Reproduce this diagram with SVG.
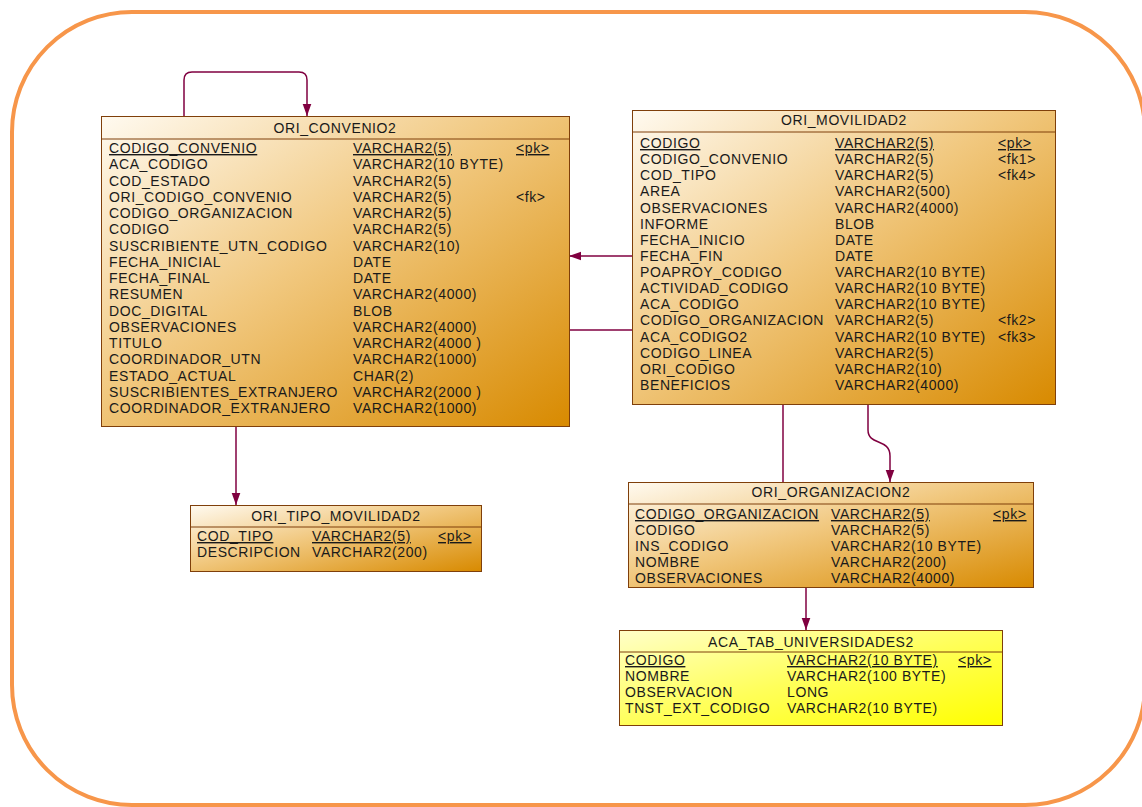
<svg xmlns="http://www.w3.org/2000/svg" width="1142" height="807" viewBox="0 0 1142 807">
<style>
text{font-family:"Liberation Sans",Arial,sans-serif;font-size:14px;letter-spacing:0.6px;fill:#1a1a1a}
.t{text-anchor:middle}
.pk{text-decoration:underline}
.box{stroke:#7f3f0a;stroke-width:1}
.hd{stroke:#7f3f0a;stroke-width:1}
.cn{fill:none;stroke:#800040;stroke-width:1.5}
</style>
<defs>
<linearGradient id="og" x1="0" y1="0" x2="1" y2="1">
<stop offset="0" stop-color="#fffaf0"/>
<stop offset="0.45" stop-color="#f1c87f"/>
<stop offset="1" stop-color="#d88a00"/>
</linearGradient>
<linearGradient id="yg" x1="0" y1="0" x2="1" y2="1">
<stop offset="0" stop-color="#ffffc8"/>
<stop offset="0.5" stop-color="#ffff5a"/>
<stop offset="1" stop-color="#ffff00"/>
</linearGradient>
<marker id="ar" markerWidth="12" markerHeight="14" refX="14" refY="5" viewBox="0 0 14 10" markerUnits="userSpaceOnUse" orient="auto">
<path d="M0,0 L14,5 L0,10 Z" fill="#800040"/>
</marker>
</defs>
<rect x="12" y="12" width="1133" height="793" rx="120" ry="120" fill="#fff" stroke="#f7964a" stroke-width="4"/>

<g id="connectors">
<path class="cn" d="M184,116 V80 Q184,72 192,72 H299 Q307,72 307,80 V116" marker-end="url(#ar)"/>
<path class="cn" d="M632,256 H569" marker-end="url(#ar)"/>
<path class="cn" d="M569,330 H632"/>
<path class="cn" d="M236,426 V505" marker-end="url(#ar)"/>
<path class="cn" d="M783,404 V482"/>
<path class="cn" d="M868,404 V430 C868,446 890,438 890,456 V482" marker-end="url(#ar)"/>
<path class="cn" d="M806,587 V630" marker-end="url(#ar)"/>
</g>

<g id="ORI_CONVENIO2">
<rect class="box" x="101.5" y="116.5" width="468" height="310" fill="url(#og)"/>
<line class="hd" x1="101.5" y1="139" x2="569.5" y2="139"/>
<text class="t" x="335" y="133">ORI_CONVENIO2</text>
<text class="pk" x="109" y="153">CODIGO_CONVENIO</text><text class="pk" x="353" y="153">VARCHAR2(5)</text><text class="pk" x="516" y="153">&lt;pk&gt;</text>
<text x="109" y="169.25">ACA_CODIGO</text><text x="353" y="169.25">VARCHAR2(10 BYTE)</text>
<text x="109" y="185.5">COD_ESTADO</text><text x="353" y="185.5">VARCHAR2(5)</text>
<text x="109" y="201.75">ORI_CODIGO_CONVENIO</text><text x="353" y="201.75">VARCHAR2(5)</text><text x="516" y="201.75">&lt;fk&gt;</text>
<text x="109" y="218">CODIGO_ORGANIZACION</text><text x="353" y="218">VARCHAR2(5)</text>
<text x="109" y="234.25">CODIGO</text><text x="353" y="234.25">VARCHAR2(5)</text>
<text x="109" y="250.5">SUSCRIBIENTE_UTN_CODIGO</text><text x="353" y="250.5">VARCHAR2(10)</text>
<text x="109" y="266.75">FECHA_INICIAL</text><text x="353" y="266.75">DATE</text>
<text x="109" y="283">FECHA_FINAL</text><text x="353" y="283">DATE</text>
<text x="109" y="299.25">RESUMEN</text><text x="353" y="299.25">VARCHAR2(4000)</text>
<text x="109" y="315.5">DOC_DIGITAL</text><text x="353" y="315.5">BLOB</text>
<text x="109" y="331.75">OBSERVACIONES</text><text x="353" y="331.75">VARCHAR2(4000)</text>
<text x="109" y="348">TITULO</text><text x="353" y="348">VARCHAR2(4000 )</text>
<text x="109" y="364.25">COORDINADOR_UTN</text><text x="353" y="364.25">VARCHAR2(1000)</text>
<text x="109" y="380.5">ESTADO_ACTUAL</text><text x="353" y="380.5">CHAR(2)</text>
<text x="109" y="396.75">SUSCRIBIENTES_EXTRANJERO</text><text x="353" y="396.75">VARCHAR2(2000 )</text>
<text x="109" y="413">COORDINADOR_EXTRANJERO</text><text x="353" y="413">VARCHAR2(1000)</text>
</g>

<g id="ORI_MOVILIDAD2">
<rect class="box" x="632.5" y="110.5" width="423" height="294" fill="url(#og)"/>
<line class="hd" x1="632.5" y1="132" x2="1055.5" y2="132"/>
<text class="t" x="844" y="125">ORI_MOVILIDAD2</text>
<text class="pk" x="640" y="148">CODIGO</text><text class="pk" x="835" y="148">VARCHAR2(5)</text><text class="pk" x="998" y="148">&lt;pk&gt;</text>
<text x="640" y="164.1">CODIGO_CONVENIO</text><text x="835" y="164.1">VARCHAR2(5)</text><text x="998" y="164.1">&lt;fk1&gt;</text>
<text x="640" y="180.3">COD_TIPO</text><text x="835" y="180.3">VARCHAR2(5)</text><text x="998" y="180.3">&lt;fk4&gt;</text>
<text x="640" y="196.4">AREA</text><text x="835" y="196.4">VARCHAR2(500)</text>
<text x="640" y="212.5">OBSERVACIONES</text><text x="835" y="212.5">VARCHAR2(4000)</text>
<text x="640" y="228.7">INFORME</text><text x="835" y="228.7">BLOB</text>
<text x="640" y="244.8">FECHA_INICIO</text><text x="835" y="244.8">DATE</text>
<text x="640" y="260.9">FECHA_FIN</text><text x="835" y="260.9">DATE</text>
<text x="640" y="277.1">POAPROY_CODIGO</text><text x="835" y="277.1">VARCHAR2(10 BYTE)</text>
<text x="640" y="293.2">ACTIVIDAD_CODIGO</text><text x="835" y="293.2">VARCHAR2(10 BYTE)</text>
<text x="640" y="309.3">ACA_CODIGO</text><text x="835" y="309.3">VARCHAR2(10 BYTE)</text>
<text x="640" y="325.4">CODIGO_ORGANIZACION</text><text x="835" y="325.4">VARCHAR2(5)</text><text x="998" y="325.4">&lt;fk2&gt;</text>
<text x="640" y="341.6">ACA_CODIGO2</text><text x="835" y="341.6">VARCHAR2(10 BYTE)</text><text x="998" y="341.6">&lt;fk3&gt;</text>
<text x="640" y="357.7">CODIGO_LINEA</text><text x="835" y="357.7">VARCHAR2(5)</text>
<text x="640" y="373.8">ORI_CODIGO</text><text x="835" y="373.8">VARCHAR2(10)</text>
<text x="640" y="390">BENEFICIOS</text><text x="835" y="390">VARCHAR2(4000)</text>
</g>

<g id="ORI_TIPO_MOVILIDAD2">
<rect class="box" x="190.5" y="505.5" width="291" height="66" fill="url(#og)"/>
<line class="hd" x1="190.5" y1="527" x2="481.5" y2="527"/>
<text class="t" x="336" y="521">ORI_TIPO_MOVILIDAD2</text>
<text class="pk" x="197" y="541">COD_TIPO</text><text class="pk" x="312" y="541">VARCHAR2(5)</text><text class="pk" x="438" y="541">&lt;pk&gt;</text>
<text x="197" y="557">DESCRIPCION</text><text x="312" y="557">VARCHAR2(200)</text>
</g>

<g id="ORI_ORGANIZACION2">
<rect class="box" x="628.5" y="482.5" width="405" height="105" fill="url(#og)"/>
<line class="hd" x1="628.5" y1="504" x2="1033.5" y2="504"/>
<text class="t" x="831" y="497">ORI_ORGANIZACION2</text>
<text class="pk" x="635" y="519">CODIGO_ORGANIZACION</text><text class="pk" x="831" y="519">VARCHAR2(5)</text><text class="pk" x="993" y="519">&lt;pk&gt;</text>
<text x="635" y="535">CODIGO</text><text x="831" y="535">VARCHAR2(5)</text>
<text x="635" y="551">INS_CODIGO</text><text x="831" y="551">VARCHAR2(10 BYTE)</text>
<text x="635" y="567">NOMBRE</text><text x="831" y="567">VARCHAR2(200)</text>
<text x="635" y="583">OBSERVACIONES</text><text x="831" y="583">VARCHAR2(4000)</text>
</g>

<g id="ACA_TAB_UNIVERSIDADES2">
<rect class="box" x="619.5" y="630.5" width="383" height="95" fill="url(#yg)"/>
<line class="hd" x1="619.5" y1="652" x2="1002.5" y2="652"/>
<text class="t" x="811" y="647">ACA_TAB_UNIVERSIDADES2</text>
<text class="pk" x="625" y="665">CODIGO</text><text class="pk" x="787" y="665">VARCHAR2(10 BYTE)</text><text class="pk" x="958" y="665">&lt;pk&gt;</text>
<text x="625" y="681">NOMBRE</text><text x="787" y="681">VARCHAR2(100 BYTE)</text>
<text x="625" y="697">OBSERVACION</text><text x="787" y="697">LONG</text>
<text x="625" y="713">TNST_EXT_CODIGO</text><text x="787" y="713">VARCHAR2(10 BYTE)</text>
</g>
</svg>
